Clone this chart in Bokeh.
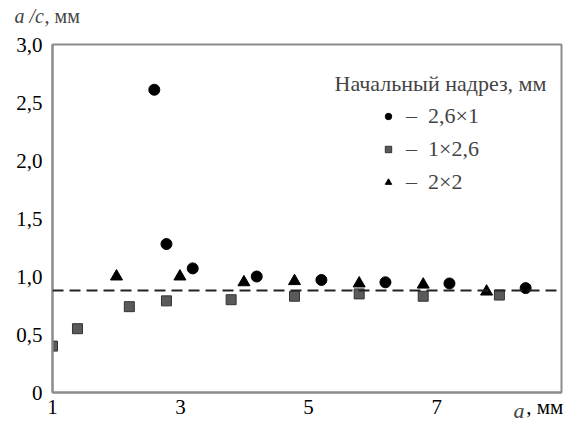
from bokeh.plotting import figure
from bokeh.models import (Span, Label, Legend, LegendItem, FixedTicker)
from bokeh.embed import file_html
from bokeh.resources import INLINE

# ---- data ----
circ_x = [2.59, 2.78, 3.19, 4.19, 5.2, 6.2, 7.2, 8.39]
circ_y = [2.61, 1.28, 1.07, 1.0, 0.97, 0.95, 0.94, 0.90]
sq_x = [1.0, 1.39, 2.2, 2.78, 3.79, 4.78, 5.79, 6.79, 7.98]
sq_y = [0.40, 0.55, 0.74, 0.79, 0.80, 0.83, 0.85, 0.83, 0.84]
tri_x = [2.0, 2.99, 3.99, 4.78, 5.79, 6.79, 7.78]
tri_y = [1.0, 1.0, 0.95, 0.96, 0.94, 0.93, 0.87]
ref_level = 0.88
x_ticks = [1, 3, 5, 7]
x_tick_labels = ["1", "3", "5", "7"]
x_unit_pos = 8.69          # where the unit text ", мм" of the x axis sits
x_unit_text = ", мм"
y_ticks = [0, 0.5, 1.0, 1.5, 2.0, 2.5, 3.0]
y_tick_labels = ["0", "0,5", "1,0", "1,5", "2,0", "2,5", "3,0"]
series_labels = ["–  2,6×1", "–  1×2,6", "–  2×2"]
legend_title = "Начальный надрез, мм"

FONT = "Times New Roman"
AX = "#8c8c8c"

p = figure(width=568, height=421, x_range=(1, 8.95), y_range=(0, 3.0),
           output_backend="svg", toolbar_location=None,
           min_border_left=52, min_border_top=42, min_border_right=7,
           min_border_bottom=27)
p.background_fill_color = "white"
p.border_fill_color = "white"
p.grid.visible = False
p.outline_line_color = AX
p.outline_line_width = 2

for ax in (p.xaxis[0], p.yaxis[0]):
    ax.axis_line_color = AX
    ax.axis_line_width = 2
    ax.major_tick_line_color = None
    ax.minor_tick_line_color = None
    ax.major_tick_out = 0
    ax.major_tick_in = 0
    ax.minor_tick_out = 0
    ax.major_label_text_font = FONT
    ax.major_label_text_font_size = "21px"
    ax.major_label_text_color = "black"

p.xaxis.ticker = FixedTicker(ticks=x_ticks + [x_unit_pos])
xo = {t: l for t, l in zip(x_ticks, x_tick_labels)}
xo[x_unit_pos] = x_unit_text
p.xaxis.major_label_overrides = xo
p.xaxis.major_label_standoff = 2
p.yaxis.ticker = FixedTicker(ticks=y_ticks)
p.yaxis.major_label_overrides = {t: l for t, l in zip(y_ticks, y_tick_labels)}
p.yaxis.major_label_standoff = 10

p.add_layout(Span(location=ref_level, dimension="width", line_color="#222222",
                  line_width=2, line_dash="11 6"))

r_c = p.scatter(circ_x, circ_y, marker="circle", size=11, fill_color="black",
                line_color="black")
r_s = p.scatter(sq_x, sq_y, marker="square", size=10, fill_color="#5a5a5a",
                line_color="#333333", line_width=1)
r_t = p.scatter(tri_x, tri_y, marker="triangle", size=12, fill_color="black",
                line_color="black")

legend = Legend(items=[LegendItem(label=series_labels[0], renderers=[r_c]),
                       LegendItem(label=series_labels[1], renderers=[r_s]),
                       LegendItem(label=series_labels[2], renderers=[r_t])],
                location=(328, 197), padding=0, spacing=7,
                glyph_width=16, glyph_height=20, label_height=20,
                label_standoff=10, border_line_alpha=0,
                background_fill_alpha=0, label_text_font=FONT,
                label_text_font_size="22px")
p.add_layout(legend, "center")

p.add_layout(Label(x=440, y=83, x_units="canvas", y_units="canvas",
                   text=legend_title, text_font=FONT,
                   text_font_size="22px", text_align="center",
                   text_baseline="middle"))

# axis titles (placed in side panels so they are not clipped to the frame)
p.add_layout(Label(x=14, y=15, x_units="canvas", y_units="canvas",
                   text="a /c", text_font=FONT,
                   text_font_style="italic", text_font_size="20px",
                   text_align="left", text_baseline="middle"), "above")
p.add_layout(Label(x=44, y=15, x_units="canvas", y_units="canvas",
                   text=", мм", text_font=FONT,
                   text_font_size="20px", text_align="left",
                   text_baseline="middle"), "above")
p.add_layout(Label(x=513, y=410, x_units="canvas", y_units="canvas",
                   text="a", text_font=FONT,
                   text_font_style="italic", text_font_size="22px",
                   text_align="left", text_baseline="middle"), "left")

open("out.html", "w").write(file_html(p, INLINE))
